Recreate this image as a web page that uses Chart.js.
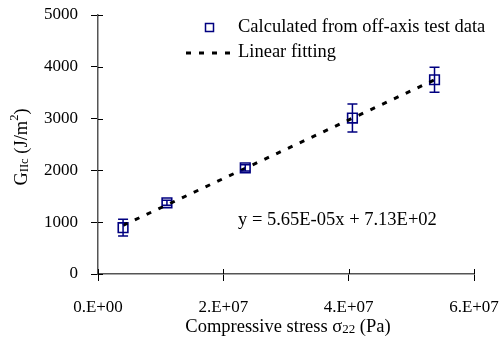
<!DOCTYPE html>
<html>
<head>
<meta charset="utf-8">
<script src="https://cdn.jsdelivr.net/npm/chart.js@4.4.1/dist/chart.umd.min.js"></script>
<style>
  html, body { margin: 0; padding: 0; background: #fff; }
  #wrap { width: 500px; height: 338px; position: relative; }
</style>
</head>
<body>
<div id="wrap"><canvas id="giicChart"></canvas></div>
<script>
// measured points (stress in Pa, GIIc in J/m2)
const stress = [4.0e6, 1.10e7, 2.35e7, 4.06e7, 5.37e7];
const giic = [895, 1375, 2050, 3010, 3750];
const giicErr = [160, 50, 60, 270, 240];

// trendline end points
const fitStress = [4.0e6, 5.37e7];
const fitGiic = [939, 3747];

const xTicks = [0, 2e7, 4e7, 6e7];
const yTicks = [0, 1000, 2000, 3000, 4000, 5000];

const navy = "#000080";
const serif = "'Liberation Serif', 'Times New Roman', serif";
const fs = 18.5;   // legend, titles, equation
const tickFs = 17;

const fmtExp = (v) => {
    if (v === 0) return "0.E+00";
    const e = Math.floor(Math.log10(v));
    const m = Math.round(v / Math.pow(10, e));
    return m + ".E+" + String(e).padStart(2, "0");
};

const noPad = (s) => { s.paddingTop = 0; s.paddingBottom = 0; s.paddingLeft = 0; s.paddingRight = 0; };

// error bars + crossing inner tick marks + texts
const extras = {
    id: "extras",
    afterDatasetsDraw(chart) {
        const ctx = chart.ctx;
        const xs = chart.scales.x, ys = chart.scales.y;
        ctx.save();
        ctx.strokeStyle = navy;
        ctx.lineWidth = 1.5;
        stress.forEach((s, i) => {
            const px = xs.getPixelForValue(s);
            const top = ys.getPixelForValue(giic[i] + giicErr[i]);
            const bot = ys.getPixelForValue(giic[i] - giicErr[i]);
            ctx.beginPath();
            ctx.moveTo(px, top); ctx.lineTo(px, bot);
            ctx.moveTo(px - 5, top); ctx.lineTo(px + 5, top);
            ctx.moveTo(px - 5, bot); ctx.lineTo(px + 5, bot);
            ctx.stroke();
        });
        ctx.restore();
    },
    afterDraw(chart) {
        const ctx = chart.ctx;
        const xs = chart.scales.x, ys = chart.scales.y;
        const area = chart.chartArea;
        ctx.save();
        ctx.strokeStyle = "#000";
        ctx.lineWidth = 1;
        ctx.beginPath();
        yTicks.forEach(v => {
            const py = Math.round(ys.getPixelForValue(v)) + 0.5;
            ctx.moveTo(area.left, py); ctx.lineTo(area.left + 5, py);
        });
        xTicks.forEach(v => {
            const px = Math.round(xs.getPixelForValue(v)) + 0.5;
            ctx.moveTo(px, area.bottom); ctx.lineTo(px, area.bottom - 5);
        });
        ctx.stroke();

        // legend
        ctx.fillStyle = "#000";
        ctx.font = fs + "px " + serif;
        ctx.textBaseline = "middle";
        ctx.textAlign = "left";
        ctx.strokeStyle = navy;
        ctx.lineWidth = 1.5;
        ctx.strokeRect(205.5, 23.5, 8, 8);
        ctx.fillText("Calculated from off-axis test data", 238, 27);
        ctx.strokeStyle = "#000";
        ctx.lineWidth = 3;
        ctx.setLineDash([5, 8]);
        ctx.beginPath();
        ctx.moveTo(186, 53); ctx.lineTo(236, 53);
        ctx.stroke();
        ctx.setLineDash([]);
        ctx.fillText("Linear fitting", 238, 52);

        // trendline equation
        ctx.fillText("y = 5.65E-05x + 7.13E+02", 238, 220);

        // x title with subscript
        const xt1 = "Compressive stress \u03c3", xt2 = "22", xt3 = " (Pa)";
        ctx.font = fs + "px " + serif;
        const w1 = ctx.measureText(xt1).width, w3 = ctx.measureText(xt3).width;
        ctx.font = "13px " + serif;
        const w2 = ctx.measureText(xt2).width;
        let x0 = 288 - (w1 + w2 + w3) / 2;
        const yb = 327;
        ctx.font = fs + "px " + serif;
        ctx.fillText(xt1, x0, yb);
        ctx.font = "13px " + serif;
        ctx.fillText(xt2, x0 + w1, yb + 3);
        ctx.font = fs + "px " + serif;
        ctx.fillText(xt3, x0 + w1 + w2, yb);

        // y title rotated with sub/superscript
        ctx.translate(22, 147);
        ctx.rotate(-Math.PI / 2);
        const parts = [["G", fs, 0], ["IIc", 12.5, 3], [" (J/m", fs, 0], ["2", 12.5, -7], [")", fs, 0]];
        let tw = 0;
        parts.forEach(p => { ctx.font = p[1] + "px " + serif; tw += ctx.measureText(p[0]).width; });
        let cx = -tw / 2;
        parts.forEach(p => {
            ctx.font = p[1] + "px " + serif;
            ctx.fillText(p[0], cx, p[2]);
            cx += ctx.measureText(p[0]).width;
        });
        ctx.restore();
    }
};

new Chart(document.getElementById("giicChart"), {
    type: "scatter",
    data: {
        datasets: [{
            label: "Calculated from off-axis test data",
            data: stress.map((s, i) => ({ x: s, y: giic[i] })),
            pointStyle: "rect",
            pointRadius: 6.8,
            pointBorderWidth: 1.6,
            pointBorderColor: navy,
            pointBackgroundColor: "rgba(0,0,0,0)",
            showLine: false,
            order: 2
        }, {
            label: "Linear fitting",
            data: fitStress.map((s, i) => ({ x: s, y: fitGiic[i] })),
            showLine: true,
            borderColor: "#000",
            borderWidth: 3,
            borderDash: [5, 8],
            pointRadius: 0,
            order: 1
        }]
    },
    options: {
        responsive: true,
        maintainAspectRatio: false,
        animation: false,
        layout: { padding: { top: 15, right: 26, left: 0, bottom: 0 } },
        plugins: { legend: { display: false }, tooltip: { enabled: false } },
        scales: {
            x: {
                type: "linear",
                min: 0, max: 6e7,
                afterFit: (s) => { s.height = 64; noPad(s); },
                afterBuildTicks: (s) => { s.ticks = xTicks.map(v => ({ value: v })); },
                grid: { drawOnChartArea: false, tickLength: 7, color: "#000", tickColor: "#000" },
                border: { color: "#555", width: 1.5 },
                ticks: { color: "#000", font: { family: serif, size: tickFs }, padding: 16, callback: fmtExp, maxRotation: 0 }
            },
            y: {
                min: 0, max: 5000,
                afterFit: (s) => { s.width = 98; noPad(s); },
                afterBuildTicks: (s) => { s.ticks = yTicks.map(v => ({ value: v })); },
                grid: { drawOnChartArea: false, tickLength: 7, color: "#000", tickColor: "#000" },
                border: { color: "#555", width: 1.5 },
                ticks: { color: "#000", font: { family: serif, size: tickFs }, padding: 13, callback: (v) => String(v) }
            }
        }
    },
    plugins: [extras]
});
</script>
</body>
</html>
